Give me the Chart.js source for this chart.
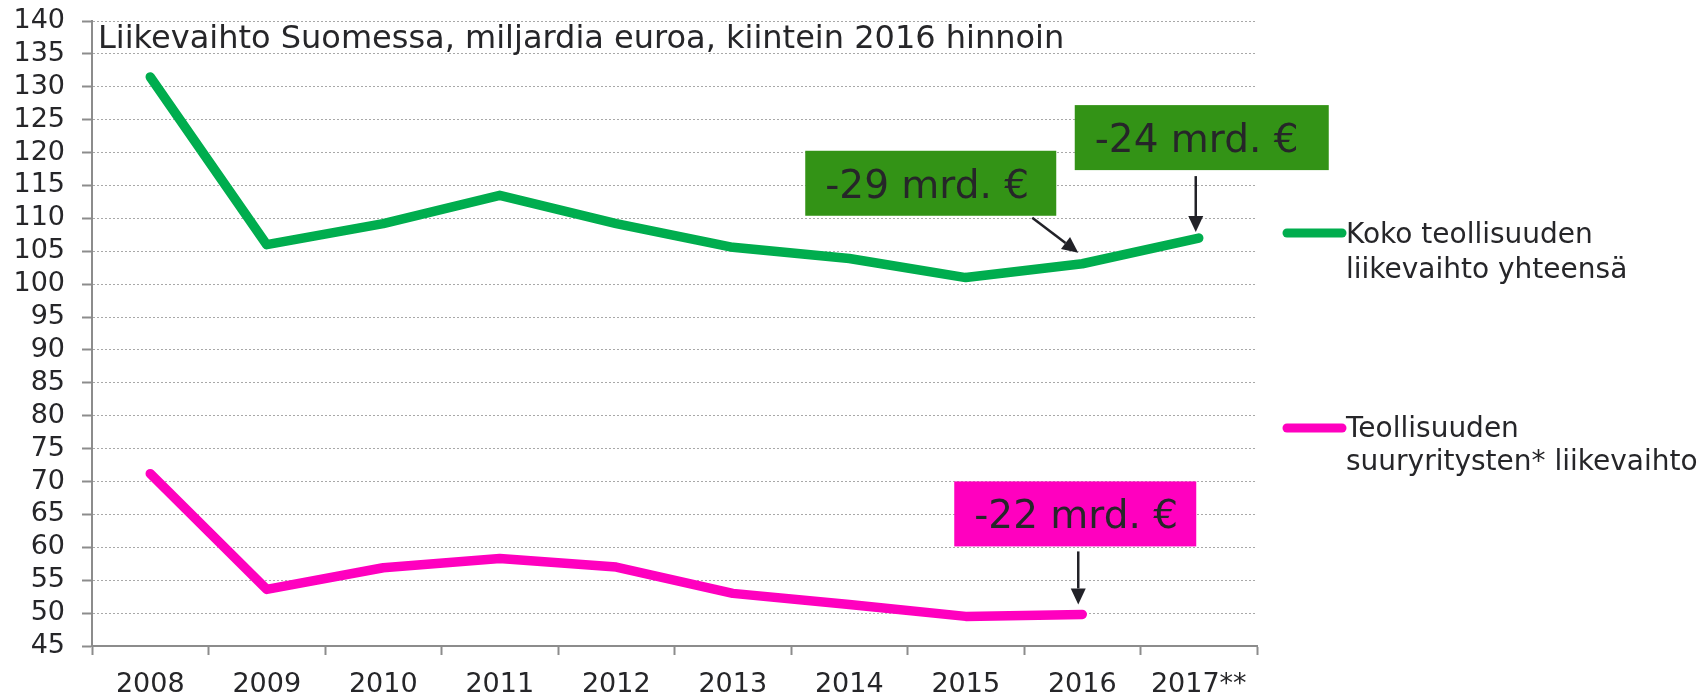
<!DOCTYPE html>
<html>
<head>
<meta charset="utf-8">
<script src="https://cdn.jsdelivr.net/npm/chart.js@4"></script>
<style>
html,body{margin:0;padding:0;background:#fff;}
#wrap{position:relative;width:1704px;height:695px;}
</style>
</head>
<body>
<div id="wrap"><canvas id="c"></canvas></div>
<script>
const categories = ['2008','2009','2010','2011','2012','2013','2014','2015','2016','2017**'];
const totalTurnover = [131.5, 106.0, 109.2, 113.5, 109.2, 105.6, 103.9, 101.0, 103.1, 107.0];
const largeTurnover = [71.2, 53.6, 56.9, 58.3, 57.0, 53.0, 51.3, 49.5, 49.8, null];
const seriesNames = [['Koko teollisuuden','liikevaihto yhteensä'], ['Teollisuuden','suuryritysten* liikevaihto']];
const chartTitle = 'Liikevaihto Suomessa, miljardia euroa, kiintein 2016 hinnoin';
const yMin = 45, yMax = 140, yStep = 5;
const annotationTexts = ['-29 mrd. €', '-24 mrd. €', '-22 mrd. €'];

const GREEN = '#00AD4E', PINK = '#FF00BF', BOX_GREEN = '#339316', TXT = '#262629', AXIS = '#8c8c8c';
const FONT = '"DejaVu Sans", Verdana, sans-serif';

// annotation layout: dataset, point index, box offset relative to point, arrow start/tip offsets
const annLayout = [
  {ds:0, idx:8, color:BOX_GREEN, box:[-277,-113,251,65], from:[-50,-46], to:[-4,-11]},
  {ds:0, idx:9, color:BOX_GREEN, box:[-124,-133,254,65], from:[-3,-62], to:[-3,-6]},
  {ds:1, idx:8, color:PINK,      box:[-128,-133,242,65], from:[-4,-63], to:[-4,-10]}
];

const overlayPlugin = {
  id: 'overlay',
  afterDatasetsDraw(chart) {
    const ctx = chart.ctx, ca = chart.chartArea;
    ctx.save();
    // title
    ctx.fillStyle = TXT;
    ctx.font = '32px ' + FONT;
    ctx.textAlign = 'left';
    ctx.textBaseline = 'alphabetic';
    ctx.fillText(chartTitle, ca.left + 6, ca.top + 27);

    // annotations
    annLayout.forEach((a, i) => {
      const pt = chart.getDatasetMeta(a.ds).data[a.idx];
      const px = pt.x, py = pt.y;
      const [bx, by, bw, bh] = a.box;
      ctx.fillStyle = a.color;
      ctx.fillRect(px + bx, py + by, bw, bh);
      ctx.fillStyle = TXT;
      ctx.font = '39px ' + FONT;
      ctx.textAlign = 'left';
      ctx.textBaseline = 'alphabetic';
      ctx.fillText(annotationTexts[i], px + bx + 20, py + by + 47);
      // arrow
      const x1 = px + a.from[0], y1 = py + a.from[1];
      const x2 = px + a.to[0], y2 = py + a.to[1];
      const ang = Math.atan2(y2 - y1, x2 - x1);
      const hl = 16, hw = 7.5;
      const bxp = x2 - hl * Math.cos(ang), byp = y2 - hl * Math.sin(ang);
      ctx.strokeStyle = '#222228';
      ctx.lineWidth = 2.5;
      ctx.beginPath();
      ctx.moveTo(x1, y1);
      ctx.lineTo(bxp, byp);
      ctx.stroke();
      ctx.fillStyle = '#222228';
      ctx.beginPath();
      ctx.moveTo(x2, y2);
      ctx.lineTo(bxp + hw * Math.sin(ang), byp - hw * Math.cos(ang));
      ctx.lineTo(bxp - hw * Math.sin(ang), byp + hw * Math.cos(ang));
      ctx.closePath();
      ctx.fill();
    });

    // legend
    const lx = ca.right + 26;
    const legendRows = [{y: 233, base: [243, 278]}, {y: 428, base: [437, 470]}];
    chart.data.datasets.forEach((ds, i) => {
      const r = legendRows[i];
      ctx.strokeStyle = ds.borderColor;
      ctx.lineWidth = 9;
      ctx.lineCap = 'round';
      ctx.beginPath();
      ctx.moveTo(lx + 4, r.y);
      ctx.lineTo(lx + 59, r.y);
      ctx.stroke();
      ctx.fillStyle = TXT;
      ctx.font = '28px ' + FONT;
      ctx.textAlign = 'left';
      seriesNames[i].forEach((line, j) => ctx.fillText(line, lx + 63, r.base[j]));
    });
    ctx.restore();
  }
};

new Chart(document.getElementById('c'), {
  type: 'line',
  data: {
    labels: categories,
    datasets: [
      {label: seriesNames[0].join(' '), data: totalTurnover, borderColor: GREEN, backgroundColor: GREEN,
       borderWidth: 9.5, pointRadius: 0, tension: 0, borderCapStyle: 'round', borderJoinStyle: 'round'},
      {label: seriesNames[1].join(' '), data: largeTurnover, borderColor: PINK, backgroundColor: PINK,
       borderWidth: 9.5, pointRadius: 0, tension: 0, borderCapStyle: 'round', borderJoinStyle: 'round'}
    ]
  },
  options: {
    responsive: true,
    maintainAspectRatio: false,
    animation: false,
    events: [],
    layout: {autoPadding: false, padding: {left: 0, top: 21, right: 447, bottom: 0}},
    plugins: {legend: {display: false}, title: {display: false}, tooltip: {enabled: false}},
    scales: {
      x: {
        type: 'category',
        offset: true,
        grid: {offset: true, drawOnChartArea: false, drawTicks: true, tickLength: 9, tickColor: AXIS, tickWidth: 2},
        border: {display: true, color: AXIS, width: 2},
        ticks: {color: TXT, font: {family: FONT, size: 27}, padding: 14, maxRotation: 0, autoSkip: false},
        afterFit(s) { s.height = 49; s.paddingLeft = 0; s.paddingRight = 0; }
      },
      y: {
        min: yMin, max: yMax,
        grid: {color: '#a8a8a8', lineWidth: 1, drawTicks: true, tickLength: 10, tickColor: AXIS, tickWidth: 2, tickBorderDash: []},
        border: {display: true, color: AXIS, width: 2, dash: [2, 2]},
        ticks: {stepSize: yStep, color: TXT, font: {family: FONT, size: 27}, padding: 17, autoSkip: false},
        afterFit(s) { s.width = 92; s.paddingTop = 0; s.paddingBottom = 0; }
      }
    }
  },
  plugins: [overlayPlugin]
});
</script>
</body>
</html>
